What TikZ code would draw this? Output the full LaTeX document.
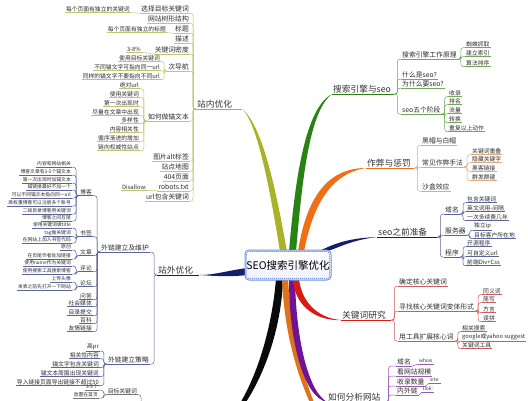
\documentclass[tikz,border=0pt]{standalone}
\usepackage{fontspec}
\setmainfont{Noto Sans CJK SC}
\pgfdeclarelayer{bgw}
\pgfdeclarelayer{bg}
\pgfsetlayers{bgw,bg,main}
\definecolor{txt}{RGB}{45,45,45}
\definecolor{bY}{RGB}{170,178,40}
\definecolor{lY}{RGB}{196,196,110}
\definecolor{bG}{RGB}{40,130,20}
\definecolor{lG}{RGB}{110,170,90}
\definecolor{bO}{RGB}{240,110,20}
\definecolor{lO}{RGB}{225,170,120}
\definecolor{bN}{RGB}{20,30,110}
\definecolor{lN}{RGB}{90,100,155}
\definecolor{bR}{RGB}{220,25,20}
\definecolor{lR}{RGB}{205,90,90}
\definecolor{bP}{RGB}{110,20,150}
\definecolor{lP}{RGB}{150,90,180}
\definecolor{bB}{RGB}{222,115,25}
\definecolor{bK}{RGB}{10,10,10}
\definecolor{lK}{RGB}{120,120,120}
\definecolor{boxB}{RGB}{110,150,210}
\definecolor{boxD}{RGB}{60,100,200}
\newcommand\fszA{\fontsize{10.5}{12}\selectfont}
\newcommand\fszB{\fontsize{8.7}{10}\selectfont}
\newcommand\fszC{\fontsize{6.8}{8}\selectfont}
\newcommand\fszD{\fontsize{5.8}{7}\selectfont}
\newcommand\fszE{\fontsize{4.8}{6}\selectfont}
\newcommand\Lcon[3]{\draw[#1,line width=.5pt,rounded corners=2.5pt] (#2.south east) -| ([xshift=-3pt]#3.south west) -- (#3.south west);}
\newcommand\Rcon[3]{\draw[#1,line width=.5pt,rounded corners=2.5pt] (#3.south east) -- ([xshift=3pt]#3.south east) |- (#2.south west);}
\newcommand\Scon[3]{\draw[#1,line width=.5pt] (#2.south east) -- (#3.south west);}
\tikzset{
  ul/.style={append after command={(\tikzlastnode.south west) edge[draw=#1,line width=.5pt] (\tikzlastnode.south east)}},
  ulB/.style={append after command={(\tikzlastnode.south west) edge[draw=#1,line width=1pt] (\tikzlastnode.south east)}},
  lb/.style={inner xsep=1pt,inner ysep=.8pt,text=txt},
  lft/.style={lb,anchor=east},
  rgt/.style={lb,anchor=west},
  mainlab/.style={rgt,font=\fszB,align=left,text=black!80},
}
\begin{document}
\begin{tikzpicture}[x=1pt,y=-1pt]
\useasboundingbox (0,0) rectangle (528,400);
\begin{pgfonlayer}{bgw}
\fill[white] (0,0) rectangle (528,400);
\end{pgfonlayer}

% centre
\node[draw=boxB,line width=1pt,rounded corners=4pt,top color=white,bottom color=blue!6,minimum width=86pt,minimum height=30pt,inner sep=0pt,font=\fszA,text=black] (c) at (288,265) {SEO搜索引擎优化};
\draw[boxD,line width=.6pt,dash pattern=on .8pt off 1.2pt,rounded corners=3pt] ([shift={(2pt,-2pt)}]c.north west) rectangle ([shift={(-2pt,2pt)}]c.south east);

% main labels
\node[mainlab,text width=44pt,ulB=bY] (zn) at (196,104) {站内优化};
\node[mainlab,text width=60pt,ulB=bG] (sn) at (332,89) {搜索引擎与seo};
\node[mainlab,text width=46pt,ulB=bO] (cn) at (366,163) {作弊与惩罚};
\node[mainlab,text width=58pt,ulB=bN] (pn) at (377,232) {seo之前准备};
\node[mainlab,text width=48pt,ulB=bR] (kn) at (341,315) {关键词研究};
\node[mainlab,text width=56pt,ulB=bP] (an) at (327,397) {如何分析网站};
\node[mainlab,text width=40pt,ulB=bN] (wn) at (157,270) {站外优化};
\coordinate (ob) at (311,405);
\coordinate (kb) at (244,405);

% branches
\begin{pgfonlayer}{bg}
\clip (0,0) rectangle (528,400);
\fill[bK] ([xshift=-5pt,yshift=2pt]c.south) .. controls (282,320) and (268,370) .. (kb) -- ([xshift=-5pt]kb) .. controls (261,369) and (273,318) .. ([xshift=-12pt,yshift=2pt]c.south) -- cycle;
\fill[bB] ([xshift=-6pt,yshift=2pt]c.south) .. controls (284,330) and (296,372) .. (ob) -- ([xshift=4pt]ob) .. controls (301,370) and (291,328) .. ([xshift=0pt,yshift=2pt]c.south) -- cycle;
\fill[bP] ([xshift=1pt,yshift=2pt]c.south) .. controls (289,345) and (305,398) .. (an.south west) .. controls (309,392) and (296,342) .. ([xshift=7pt,yshift=2pt]c.south) -- cycle;
\fill[bR] ([xshift=5pt,yshift=2pt]c.south) .. controls (294,305) and (315,321) .. (kn.south west) .. controls (316,318) and (301,300) .. ([xshift=11pt,yshift=2pt]c.south) -- cycle;
\fill[bY] ([xshift=-8pt,yshift=-2pt]c.north) .. controls (270,190) and (258,125) .. (zn.south east) .. controls (263,127) and (276,190) .. ([xshift=-1pt,yshift=-2pt]c.north) -- cycle;
\fill[bG] ([xshift=1pt,yshift=-2pt]c.north) .. controls (295,180) and (305,108) .. (sn.south west) .. controls (309,111) and (302,182) .. ([xshift=8pt,yshift=-2pt]c.north) -- cycle;
\fill[bO] ([xshift=10pt,yshift=-2pt]c.north) .. controls (306,200) and (326,168) .. (cn.south west) .. controls (328,174) and (312,210) .. ([xshift=16pt,yshift=-2pt]c.north) -- cycle;
\fill[bN] ([xshift=-13pt,yshift=-2pt]c.north east) .. controls (335,243) and (350,238) .. (pn.south west) .. controls (352,240) and (340,247) .. ([xshift=-5pt,yshift=-2pt]c.north east) -- cycle;
\fill[bN] ([xshift=3pt,yshift=-3pt]c.west) .. controls (230,270) and (215,275) .. (wn.south east) .. controls (215,276) and (230,277) .. ([xshift=3pt,yshift=-10pt]c.west) -- cycle;
\end{pgfonlayer}

% ---- 站内优化
\foreach \nm/\yy/\tx in {z1/9/选择目标关键词, z2/19/网站树形结构, z3/29/标题, z4/39/描述, z5/50/关键词密度, z6/67/次导航, z7/117/如何做锚文本, z8/157/图片alt标签, z9/167/站点地图, z10/177/404页面, z11/187/robots.txt, z12/197/url包含关键词}{
  \node[lft,font=\fszC,ul=lY] (\nm) at (190,\yy) {\tx};
  \Lcon{lY}{\nm}{zn}}
\node[lft,font=\fszD,ul=lY] (z1a) at (131,9) {每个页面有独立的关键词};
\Scon{lY}{z1a}{z1}
\node[lft,font=\fszD,ul=lY] (z3a) at (167,29) {每个页面有独立的标题};
\Scon{lY}{z3a}{z3}
\node[lft,font=\fszD,ul=lY] (z5a) at (142,49) {3-8\%};
\Scon{lY}{z5a}{z5}
\node[lft,font=\fszD,ul=lY] (z11a) at (148,187) {Disallow:};
\Scon{lY}{z11a}{z11}
\foreach \nm/\yy/\tx in {z6a/58/使用目标关键词, z6b/67/不同锚文字可指向同一url, z6c/76/同样的锚文字不要指向不同url}{
  \node[lft,font=\fszD,ul=lY] (\nm) at (161,\yy) {\tx};
  \Lcon{lY}{\nm}{z6}}
\foreach \nm/\yy/\tx in {z7a/85/绝对url, z7b/94/使用关键词, z7c/103/第一次出现时, z7d/112/尽量在文章中出现, z7e/120/多样性, z7f/129/内容相关性, z7g/138/循序渐进的增加, z7h/147/链向权威性站点}{
  \node[lft,font=\fszD,ul=lY] (\nm) at (140,\yy) {\tx};
  \Lcon{lY}{\nm}{z7}}

% ---- 搜索引擎与seo
\foreach \nm/\yy/\tx in {s1/55/搜索引擎工作原理, s2/75/什么是seo?, s3/84/为什么要seo?, s4/110/seo五个阶段}{
  \node[rgt,font=\fszC,ul=lG] (\nm) at (401,\yy) {\tx};
  \Rcon{lG}{\nm}{sn}}
\foreach \nm/\yy/\tx in {s1a/44/蜘蛛抓取, s1b/53/建立索引, s1c/63/算法排序}{
  \node[rgt,font=\fszD,ul=lG] (\nm) at (465,\yy) {\tx};
  \Rcon{lG}{\nm}{s1}}
\foreach \nm/\yy/\tx in {s4a/93/收录, s4b/101/排名, s4c/110/流量, s4d/119/转换, s4e/128/重复以上动作}{
  \node[rgt,font=\fszD,ul=lG] (\nm) at (448,\yy) {\tx};
  \Rcon{lG}{\nm}{s4}}

% ---- 作弊与惩罚
\foreach \nm/\yy/\tx in {c1/141/黑帽与白帽, c2/163/常见作弊手法, c3/187/沙盒效应}{
  \node[rgt,font=\fszC,ul=lO] (\nm) at (421,\yy) {\tx};
  \Rcon{lO}{\nm}{cn}}
\foreach \nm/\yy/\tx in {c2a/151/关键词重叠, c2b/159/隐藏关键字, c2c/168/黑客链接, c2d/177/群发群建}{
  \node[rgt,font=\fszD,ul=lO] (\nm) at (471,\yy) {\tx};
  \Rcon{lO}{\nm}{c2}}

% ---- seo之前准备
\foreach \nm/\yy/\tx in {p1/210/域名, p2/231/服务器, p3/253/程序}{
  \node[rgt,font=\fszC,ul=lN] (\nm) at (444,\yy) {\tx};
  \Rcon{lN}{\nm}{pn}}
\foreach \nm/\yy/\tx in {p1a/199/包含关键词, p1b/208/英文词用-间隔, p1c/217/一次多续费几年}{
  \node[rgt,font=\fszD,ul=lN] (\nm) at (466,\yy) {\tx};
  \Rcon{lN}{\nm}{p1}}
\foreach \nm/\yy/\tx in {p2a/226/独立ip, p2b/235/目标客户所在地}{
  \node[rgt,font=\fszD,ul=lN] (\nm) at (473,\yy) {\tx};
  \Rcon{lN}{\nm}{p2}}
\foreach \nm/\yy/\tx in {p3a/243/开源程序, p3b/253/可自定义url, p3c/262/前端Div+Css}{
  \node[rgt,font=\fszD,ul=lN] (\nm) at (466,\yy) {\tx};
  \Rcon{lN}{\nm}{p3}}

% ---- 关键词研究
\foreach \nm/\yy/\tx in {k1/282/确定核心关键词, k2/307/寻找核心关键词变体形式, k3/337/用工具扩展核心词}{
  \node[rgt,font=\fszC,ul=lR] (\nm) at (398,\yy) {\tx};
  \Rcon{lR}{\nm}{kn}}
\foreach \nm/\yy/\tx in {k2a/291/同义词, k2b/299/简写, k2c/309/方言, k2d/318/误拼}{
  \node[rgt,font=\fszD,ul=lR] (\nm) at (482,\yy) {\tx};
  \Rcon{lR}{\nm}{k2}}
\foreach \nm/\yy/\tx in {k3a/328/相关搜索, k3b/337/google或yahoo suggest, k3c/345/关键词工具}{
  \node[rgt,font=\fszD,ul=lR] (\nm) at (461,\yy) {\tx};
  \Rcon{lR}{\nm}{k3}}

% ---- 如何分析网站
\foreach \nm/\yy/\tx in {a1/362/域名, a2/372/看网站规模, a3/382/收录数量, a4/391/内外链}{
  \node[rgt,font=\fszC,ul=lP] (\nm) at (396,\yy) {\tx};
  \Rcon{lP}{\nm}{an}}
\node[rgt,font=\fszE,ul=lP] (a1a) at (418,361) {whois};
\Scon{lP}{a1}{a1a}
\node[rgt,font=\fszE,ul=lP] (a3a) at (429,380) {site:};
\Scon{lP}{a3}{a3a}
\node[rgt,font=\fszE,ul=lP] (a4a) at (422,389) {link:};
\Scon{lP}{a4}{a4a}

% ---- 站外优化
\foreach \nm/\yy/\tx in {w1/248/外链建立及维护, w2/360/外链建立策略}{
  \node[lft,font=\fszC,ul=lN] (\nm) at (150,\yy) {\tx};
  \Lcon{lN}{\nm}{wn}}
\foreach \nm/\yy/\tx in {wb/192/博客, ws/233/书签, wa/252/文章, wc/268/评论, wf/283/论坛, wx/296/问答, wm/303/社会媒体, wd/312/目录提交, wk/320/百科, wy/328/友情链接}{
  \node[lft,font=\fszD,ul=lN] (\nm) at (93,\yy) {\tx};
  \Lcon{lN}{\nm}{w1}}
\foreach \nm/\yy/\tx in {wb1/164/内容和网站相关, wb2/172/博客文章有3-5个锚文本, wb3/180/第一次出现时加锚文本, wb4/187/锚链接最好不加一个, wb5/195/可以不同锚文本指向同一url, wb6/203/高权重博客可以注册多个账号, wb7/211/二级目录博客用关键词, wb8/218/博客之间互链}{
  \node[lft,font=\fszE,ul=lN] (\nm) at (72,\yy) {\tx};
  \Lcon{lN}{\nm}{wb}}
\foreach \nm/\yy/\tx in {ws1/225/使用关键词做title, ws2/233/tag做关键词, ws3/240/在网站上加入书签代码}{
  \node[lft,font=\fszE,ul=lN] (\nm) at (72,\yy) {\tx};
  \Lcon{lN}{\nm}{ws}}
\foreach \nm/\yy/\tx in {wa1/247/原创, wa2/256/在页尾作者处加链接}{
  \node[lft,font=\fszE,ul=lN] (\nm) at (72,\yy) {\tx};
  \Lcon{lN}{\nm}{wa}}
\foreach \nm/\yy/\tx in {wc1/263/使用name作为关键词, wc2/271/使用搜索工具搜索博客}{
  \node[lft,font=\fszE,ul=lN] (\nm) at (72,\yy) {\tx};
  \Lcon{lN}{\nm}{wc}}
\foreach \nm/\yy/\tx in {wf1/279/上传头像, wf2/287/发表之前先打开一下网站}{
  \node[lft,font=\fszE,ul=lN] (\nm) at (72,\yy) {\tx};
  \Lcon{lN}{\nm}{wf}}
\foreach \nm/\yy/\tx in {w2a/347/高pr, w2b/355/相关性内容, w2c/364/锚文字包含关键词, w2d/373/锚文本周围出现关键词, w2e/382/导入链接页面导出链接不超过50}{
  \node[lft,font=\fszD,ul=lN] (\nm) at (100,\yy) {\tx};
  \Lcon{lN}{\nm}{w2}}

% ---- bottom (cut) subtree
\node[lft,font=\fszD,ul=lK] (t1) at (138,391) {目标关键词};
\coordinate (tb) at (150,410);
\draw[lK,line width=.5pt,rounded corners=2.5pt] (t1.south east) -- ++(3,0) |- (tb);
\foreach \nm/\yy/\tx in {t1a/387/3-5个, t1b/395/放置在首页}{
  \node[lft,font=\fszE,ul=lK] (\nm) at (99,\yy) {\tx};
  \Lcon{lK}{\nm}{t1}}
\end{tikzpicture}
\end{document}
